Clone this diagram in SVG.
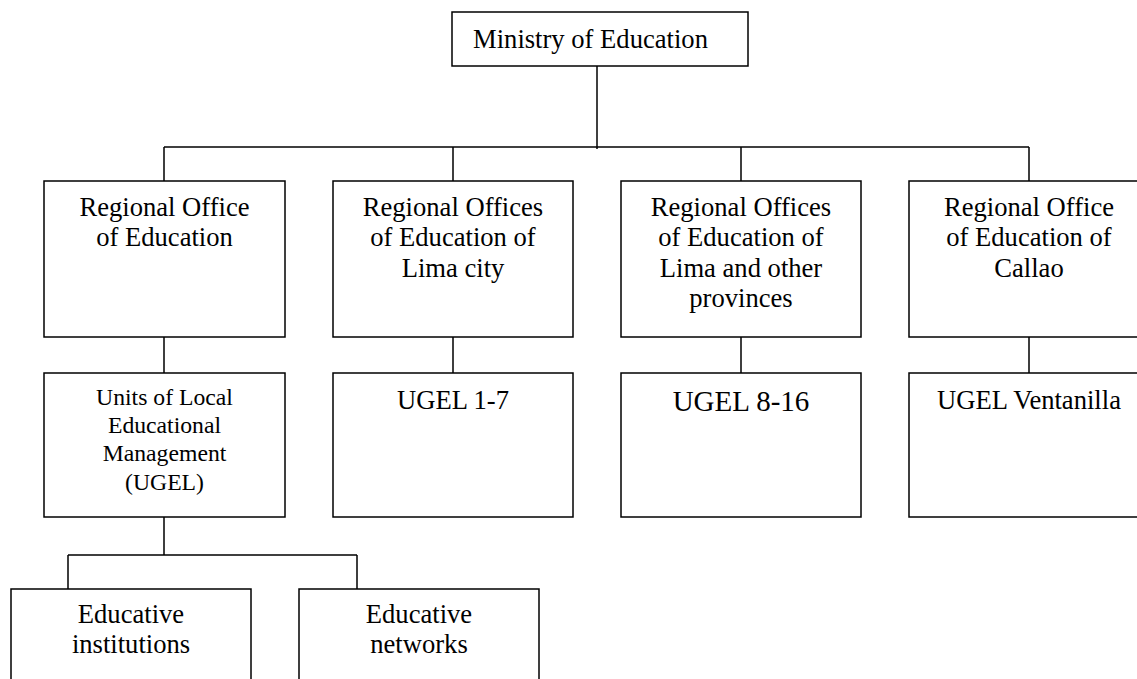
<svg xmlns="http://www.w3.org/2000/svg" width="1137" height="679" viewBox="0 0 1137 679">
<style>
.box{fill:#fff;stroke:#000;stroke-width:1.5}
.ln{fill:none;stroke:#000;stroke-width:1.5}
.t{font-size:26.6px}
.s{font-size:23.7px}
.b{font-size:29px}
</style>
<rect width="1137" height="679" fill="#fff"/>
<g id="connectors">
<path class="ln" d="M597,66 V149"/>
<path class="ln" d="M164,147 H1029"/>
<path class="ln" d="M164,147 V181 M453,147 V181 M741,147 V181 M1029,147 V181"/>
<path class="ln" d="M164,337 V373 M453,337 V373 M741,337 V373 M1029,337 V373"/>
<path class="ln" d="M164,517 V555 M68,555 H357 M68,555 V589 M357,555 V589"/>
</g>
<g font-family="Liberation Serif, 'Times New Roman', 'DejaVu Serif', serif" text-anchor="middle" fill="#000">
<g id="ministry">
<rect class="box" x="452" y="12" width="296" height="54"/>
<text class="t" x="590.5" y="48">Ministry of Education</text>
</g>
<g id="regional-office">
<rect class="box" x="44" y="181" width="241" height="156"/>
<text class="t" x="164.5" y="216">Regional Office</text>
<text class="t" x="164.5" y="246">of Education</text>
</g>
<g id="regional-lima-city">
<rect class="box" x="333" y="181" width="240" height="156"/>
<text class="t" x="453" y="216">Regional Offices</text>
<text class="t" x="453" y="246">of Education of</text>
<text class="t" x="453" y="277">Lima city</text>
</g>
<g id="regional-lima-provinces">
<rect class="box" x="621" y="181" width="240" height="156"/>
<text class="t" x="741" y="216">Regional Offices</text>
<text class="t" x="741" y="246">of Education of</text>
<text class="t" x="741" y="277">Lima and other</text>
<text class="t" x="741" y="307">provinces</text>
</g>
<g id="regional-callao">
<rect class="box" x="909" y="181" width="240" height="156"/>
<text class="t" x="1029" y="216">Regional Office</text>
<text class="t" x="1029" y="246">of Education of</text>
<text class="t" x="1029" y="277">Callao</text>
</g>
<g id="ugel">
<rect class="box" x="44" y="373" width="241" height="144"/>
<text class="s" x="164.5" y="405">Units of Local</text>
<text class="s" x="164.5" y="433">Educational</text>
<text class="s" x="164.5" y="461">Management</text>
<text class="s" x="164.5" y="490">(UGEL)</text>
</g>
<g id="ugel-1-7">
<rect class="box" x="333" y="373" width="240" height="144"/>
<text class="t" x="453" y="409">UGEL 1-7</text>
</g>
<g id="ugel-8-16">
<rect class="box" x="621" y="373" width="240" height="144"/>
<text class="b" x="741" y="411">UGEL 8-16</text>
</g>
<g id="ugel-ventanilla">
<rect class="box" x="909" y="373" width="240" height="144"/>
<text class="t" x="1029" y="409">UGEL Ventanilla</text>
</g>
<g id="educative-institutions">
<rect class="box" x="11" y="589" width="240" height="120"/>
<text class="t" x="131" y="623">Educative</text>
<text class="t" x="131" y="653">institutions</text>
</g>
<g id="educative-networks">
<rect class="box" x="299" y="589" width="240" height="120"/>
<text class="t" x="419" y="623">Educative</text>
<text class="t" x="419" y="653">networks</text>
</g>
</g>
</svg>
